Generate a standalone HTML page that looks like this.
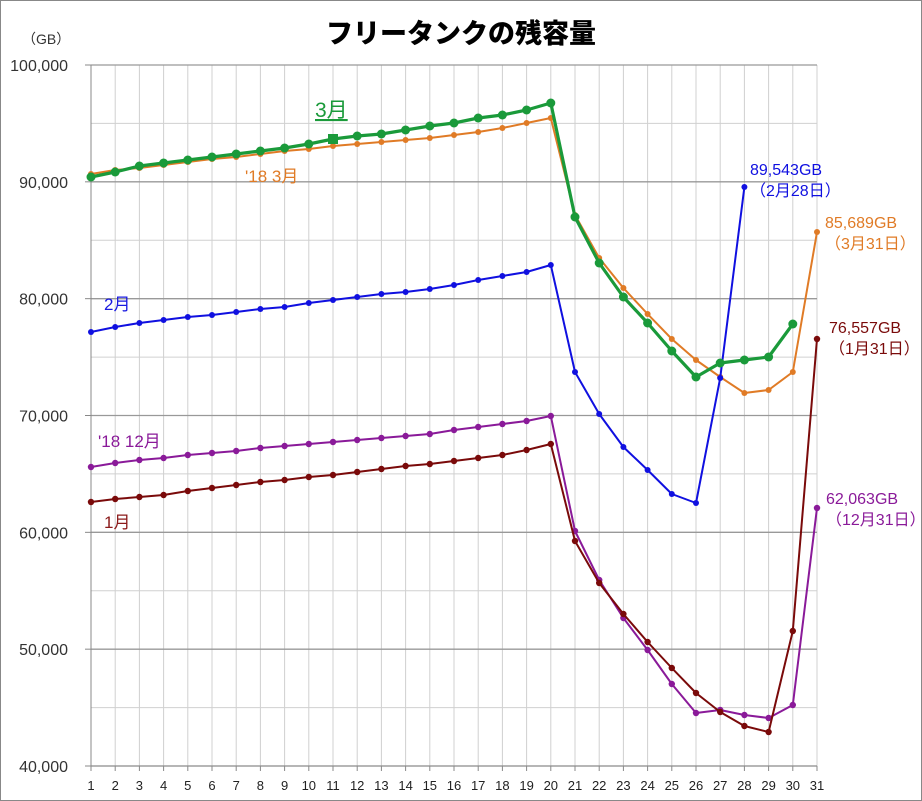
<!DOCTYPE html>
<html><head><meta charset="utf-8"><style>
html,body{margin:0;padding:0;background:#fff}
svg{display:block}
text{font-family:"Liberation Sans","Noto Sans CJK JP",sans-serif}
</style></head><body>
<svg id="s" width="922" height="801" xmlns="http://www.w3.org/2000/svg">
<rect x="0.5" y="0.5" width="921" height="800" fill="#fff" stroke="#888"/>
<g id="grid"></g>
<text x="461" y="43" text-anchor="middle" font-size="27" font-weight="bold" fill="#000" style="font-family:'Noto Sans CJK JP',sans-serif;font-weight:900">フリータンクの残容量</text>
<text x="22" y="44" font-size="14" fill="#333">（GB）</text>
<g id="lines"></g>
<g font-size="16">
<text x="315" y="117" fill="#1a9a3a" font-size="21" text-decoration="underline">3月</text>
<text x="245" y="182" fill="#e07b26" font-size="17">'18 3月</text>
<text x="104" y="310" fill="#1a1ae0" font-size="17">2月</text>
<text x="98" y="447" fill="#8a1a99" font-size="17">'18 12月</text>
<text x="104" y="528" fill="#8b1a1a" font-size="17">1月</text>
<text x="750" y="175" fill="#1010e0">89,543GB</text>
<text x="750" y="196" fill="#1010e0">（2月28日）</text>
<text x="825" y="228" fill="#e07b26">85,689GB</text>
<text x="825" y="249" fill="#e07b26">（3月31日）</text>
<text x="829" y="333" fill="#7a0a0a">76,557GB</text>
<text x="829" y="354" fill="#7a0a0a">（1月31日）</text>
<text x="826" y="504" fill="#8a1a99">62,063GB</text>
<text x="826" y="525" fill="#8a1a99">（12月31日）</text>
</g>
</svg>
<script>
const X0=91,DX=(817-91)/30,Y0=65,DY=70.0;
let g='';
for(let i=1;i<=31;i++){const x=X0+(i-1)*DX;g+=`<line x1="${x}" y1="65" x2="${x}" y2="766" stroke="#d0d0d0" stroke-width="1"/>`;
g+=`<line x1="${x}" y1="766" x2="${x}" y2="771" stroke="#888"/>`;
g+=`<text x="${x}" y="790" text-anchor="middle" font-size="13" fill="#222">${i}</text>`;}
for(let k=0;k<=12;k++){const y=65+k*(701/12);g+=`<line x1="91" y1="${y}" x2="817" y2="${y}" stroke="${k%2?'#d0d0d0':'#999'}" stroke-width="${k%2?1:1.3}"/>`;}
for(let k=0;k<=6;k++){const y=65+k*(701/6);g+=`<line x1="85" y1="${y}" x2="91" y2="${y}" stroke="#888"/><text x="68" y="${y+6}" text-anchor="end" font-size="16" fill="#333">${(100-k*10)},000</text>`;}
g+=`<line x1="91" y1="65" x2="91" y2="766" stroke="#888"/><line x1="91" y1="766" x2="817" y2="766" stroke="#888"/>`;
document.getElementById('grid').innerHTML=g;
const S=[
['#e07b26',2,3,[174,170,168,165,162,159,157,154,151,149,146,144,142,140,138,135,132,128,123,118,215,258,288,314,339,360,377,393,390,372,232]],
['#1010e0',2,3,[332,327,323,320,317,315,312,309,307,303,300,297,294,292,289,285,280,276,272,265,372,414,447,470,494,503,378,187]],
['#8a1a99',2,3.2,[467,463,460,458,455,453,451,448,446,444,442,440,438,436,434,430,427,424,421,416,531,580,618,650,684,713,710,715,718,705,508]],
['#7a0a0a',2,3.2,[502,499,497,495,491,488,485,482,480,477,475,472,469,466,464,461,458,455,450,444,541,583,614,642,668,693,712,726,732,631,339]],
['#1a9a3a',3.2,4.5,[177,172,166,163,160,157,154,151,148,144,139,136,134,130,126,123,118,115,110,103,217,263,297,323,351,377,363,360,357,324]]
];
let l='';
for(const [c,w,r,d] of S){const pts=d.map((y,i)=>`${X0+i*DX},${y}`).join(' ');
l+=`<polyline points="${pts}" fill="none" stroke="${c}" stroke-width="${w}" stroke-linejoin="round"/>`;
d.forEach((y,i)=>{const x=X0+i*DX;if(c=='#1a9a3a'&&i==10)l+=`<rect x="${x-5}" y="${y-5}" width="10" height="10" fill="${c}"/>`;else l+=`<circle cx="${x}" cy="${y}" r="${r}" fill="${c}"/>`;});}
document.getElementById('lines').innerHTML=l;
</script>
</body></html>
